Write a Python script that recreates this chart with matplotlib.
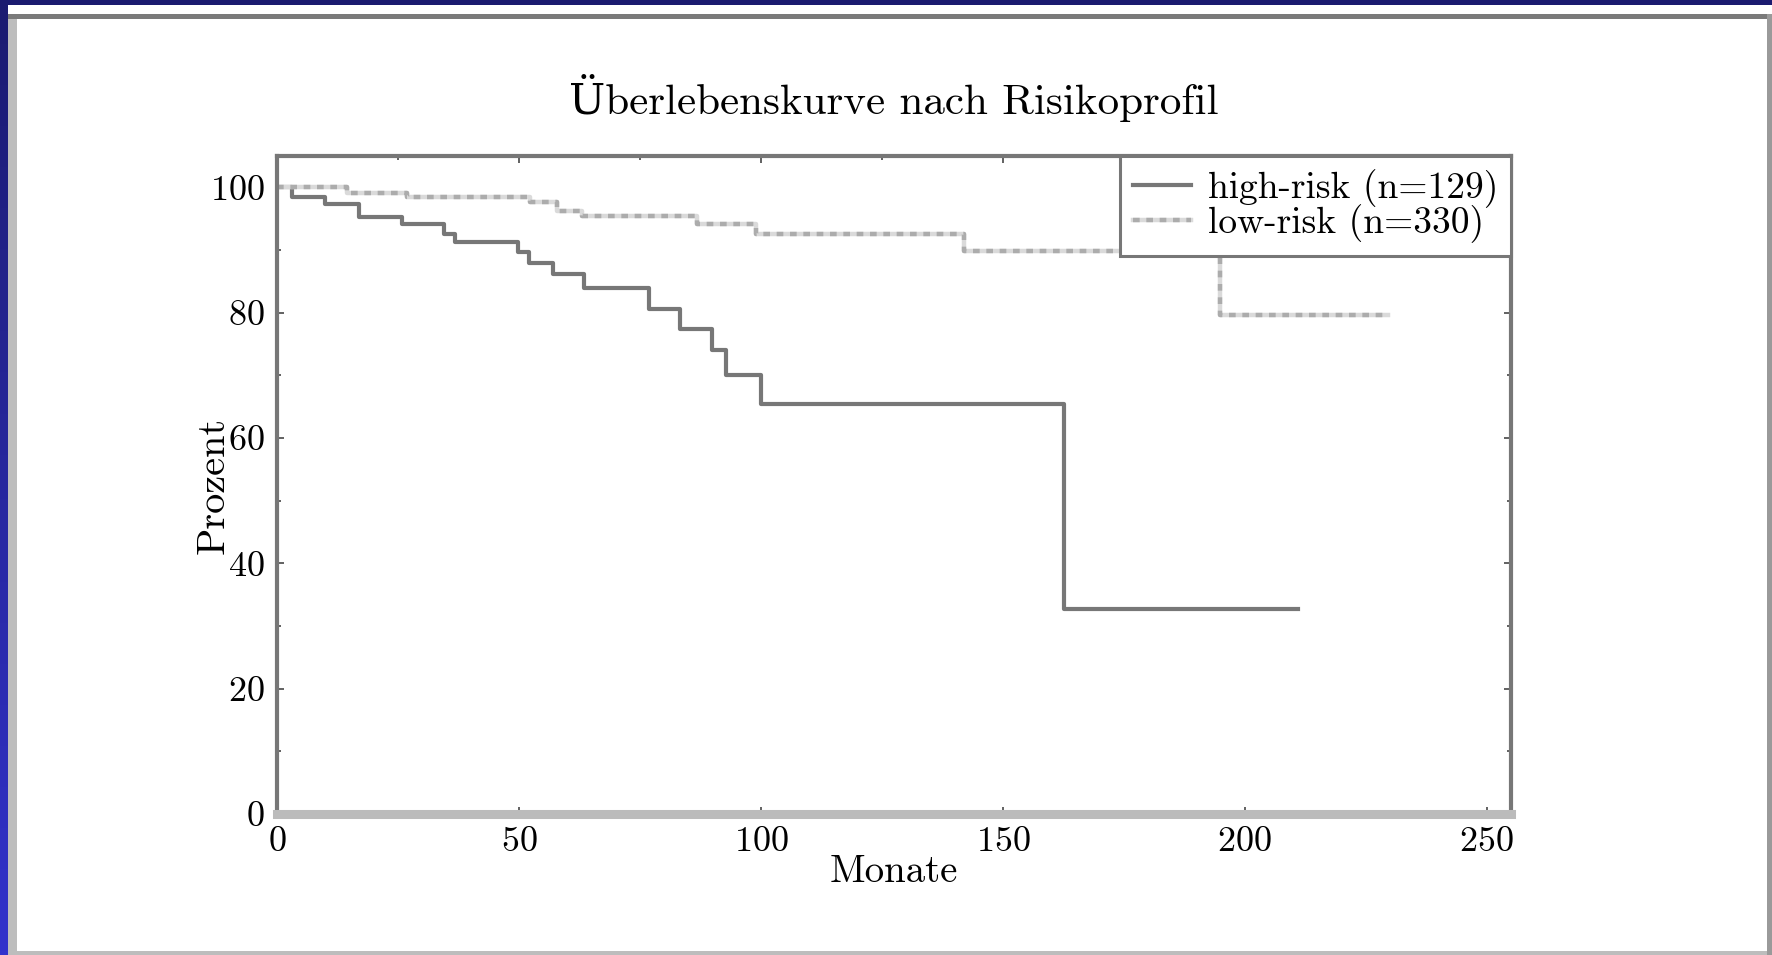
import numpy as np
import matplotlib
matplotlib.use('Agg')
import matplotlib.pyplot as plt
from matplotlib.patches import Rectangle
from matplotlib.ticker import MultipleLocator
from matplotlib.colors import LinearSegmentedColormap

plt.rcParams['font.family'] = ['cmr10', 'DejaVu Serif']
plt.rcParams['axes.formatter.use_mathtext'] = True

# Kaplan-Meier steps (months, percent surviving)
high_t = [0, 3.2, 9.9, 17.0, 25.8, 34.6, 36.8, 49.9, 52.0, 57.0, 63.5, 76.8,
          83.2, 89.8, 92.7, 100.1, 162.7, 211.0]
high_s = [100, 98.4, 97.3, 95.2, 94.1, 92.6, 91.2, 89.7, 88.0, 86.1, 84.0, 80.6,
          77.4, 74.0, 70.1, 65.4, 32.7, 32.7]

low_t = [0, 14.5, 26.8, 52.3, 57.9, 63.1, 86.8, 99.0, 141.9, 194.8, 229.5]
low_s = [100, 99.1, 98.4, 97.6, 96.2, 95.5, 94.1, 92.6, 89.8, 79.6, 79.6]

labels = ['high-risk (n=129)', 'low-risk (n=330)']
title = 'Überlebenskurve nach Risikoprofil'

W, H = 1772, 955
fig = plt.figure(figsize=(W / 100, H / 100), dpi=100)


def band(x, y, w, h, color):
    # rectangle given in pixels from the top-left corner
    fig.add_artist(Rectangle((x / W, 1 - (y + h) / H), w / W, h / H,
                             transform=fig.transFigure, color=color, lw=0, zorder=0))


# slide frame
band(0, 0, W, 5, '#1b1b70')
band(8, 14, 9, H - 14, '#bdbdbd')
band(8, 14, W - 8, 5, '#7a7a7a')
band(8, 951, W - 8, 4, '#bdbdbd')
band(1767, 14, 5, H - 14, '#9a9a9a')

edge = fig.add_axes([0, 0, 8 / W, 1])
edge.imshow(np.linspace(0, 1, 256)[:, None], aspect='auto',
            cmap=LinearSegmentedColormap.from_list('edge', ['#1b1b70', '#3232cc']))
edge.axis('off')

ax = fig.add_axes([277 / W, 1 - 814 / H, (1511 - 277) / W, (814 - 156) / H])

hi, = ax.step(high_t, high_s, where='post', color='#777777', lw=3.0)
lo_under, = ax.step(low_t, low_s, where='post', color='#dadada', lw=3.2)
lo_over, = ax.step(low_t, low_s, where='post', color='#acacac', lw=3.2,
                   dashes=(1.5, 1.5))

ax.set_xlim(0, 255)
ax.set_ylim(0, 105)
ax.xaxis.set_major_locator(MultipleLocator(50))
ax.xaxis.set_minor_locator(MultipleLocator(25))
ax.yaxis.set_major_locator(MultipleLocator(20))
ax.yaxis.set_minor_locator(MultipleLocator(10))
ax.tick_params(which='both', direction='in', top=True, right=True,
               color='#555555', width=1.3, labelsize=26, pad=9)
ax.tick_params(which='major', length=5)
ax.tick_params(which='minor', length=3)

for side in ['top', 'left', 'right']:
    ax.spines[side].set_color('#777777')
    ax.spines[side].set_linewidth(3)
ax.spines['bottom'].set_color('#bbbbbb')
ax.spines['bottom'].set_linewidth(6.5)

ax.set_xlabel('Monate', fontsize=28, labelpad=-3)
ax.set_ylabel('Prozent', fontsize=29)
ax.yaxis.set_label_coords(-0.037, 0.5)
ax.set_title(title, fontsize=31, pad=30)

leg = ax.legend([hi, (lo_under, lo_over)], labels, loc='upper right',
                borderaxespad=0, fontsize=27, fancybox=False, framealpha=1,
                edgecolor='#777777', handlelength=1.55, handletextpad=0.45,
                labelspacing=-0.08, borderpad=0.34)
leg.get_frame().set_linewidth(2.2)

fig.savefig('out.png', dpi=100, facecolor='white')
